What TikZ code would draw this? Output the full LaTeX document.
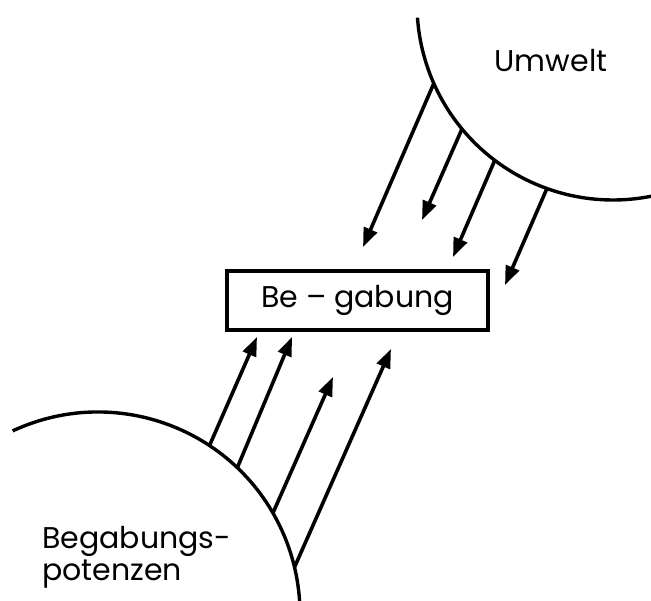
\documentclass[tikz,border=0pt]{standalone}
\usepackage{fontspec}
\setmainfont{Poppins}
\usetikzlibrary{arrows.meta}
\begin{document}
\begin{tikzpicture}[x=1pt,y=1pt,
  rim/.style={line width=3.4pt},
  ray/.style={line width=3.6pt,-{Triangle[length=19pt,width=14pt]}},
  lbl/.style={font=\fontsize{30}{32}\selectfont, inner sep=0pt},
  frame/.style={draw, line width=4.2pt, minimum width=261pt, minimum height=59pt, inner sep=0pt}
]
\useasboundingbox (0,0) rectangle (651,-601);
% circles
\coordinate (U) at (613,-4);
\coordinate (L) at (98,-614);
\draw[rim] (U) ++(184:196) arc[start angle=184,end angle=285,radius=196];
\draw[rim] (L) ++(115:202) arc[start angle=115,end angle=-8,radius=202];
% start points on the rims
\path (U) ++(203.9:196) coordinate (u1);
\path (U) ++(219.6:196) coordinate (u2);
\path (U) ++(232.9:196) coordinate (u3);
\path (U) ++(250.3:196) coordinate (u4);
\path (L) ++(56.5:202) coordinate (l1);
\path (L) ++(46.4:202) coordinate (l2);
\path (L) ++(30:202) coordinate (l3);
\path (L) ++(13.4:202) coordinate (l4);
% arrow tips
\coordinate (t1) at (363,-247);
\coordinate (t2) at (422,-220);
\coordinate (t3) at (453,-257);
\coordinate (t4) at (505,-285);
\coordinate (s1) at (257,-337);
\coordinate (s2) at (292,-337);
\coordinate (s3) at (333,-377);
\coordinate (s4) at (391,-349);
% box
\node[frame, lbl] (box) at (357.5,-300.5) {Be – gabung};
% labels
\node[lbl, anchor=base] (umw) at (551,-72) {Umwelt};
\node[lbl, anchor=base west, align=left] (pot) at (42,-580) {Begabungs-\\potenzen};
% arrows
\foreach \i in {1,...,4} {
  \draw[ray] (u\i) -- (t\i);
  \draw[ray] (l\i) -- (s\i);
}
\end{tikzpicture}
\end{document}
